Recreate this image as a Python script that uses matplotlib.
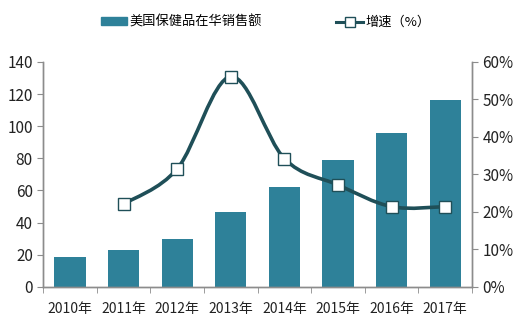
import numpy as np
import matplotlib.pyplot as plt
from matplotlib.path import Path
from matplotlib.patches import PathPatch
from matplotlib.lines import Line2D

plt.rcParams['font.family'] = ['Noto Sans CJK SC', 'DejaVu Sans']

years = ['2010年', '2011年', '2012年', '2013年', '2014年', '2015年', '2016年', '2017年']
sales = [18.5, 23, 30, 46.7, 62.2, 79, 95.8, 116.4]
growth = [None, 22.1, 31.5, 56.1, 34.2, 27.2, 21.4, 21.4]

bar_color = '#2e8199'
line_color = '#1f4f58'
axis_color = '#8c8c8c'

fig = plt.figure(figsize=(5.21, 3.26), dpi=100)
ax = fig.add_axes([0.083, 0.120, 0.823, 0.690])
ax2 = ax.twinx()

x = np.arange(len(years))
ax.bar(x, sales, width=0.58, color=bar_color, zorder=2)
ax.set_xlim(-0.5, len(years) - 0.5)
ax.set_ylim(0, 140)
ax.set_yticks(range(0, 141, 20))
ax.set_xticks(x)
ax.set_xticklabels(years, fontsize=10, color='#222222')
ax.set_xticks(np.arange(-0.5, len(years), 1), minor=True)
ax.tick_params(axis='x', which='major', length=0, pad=11)
ax.tick_params(axis='x', which='minor', length=4, color=axis_color)
ax.tick_params(axis='y', length=4, color=axis_color, labelsize=11, labelcolor='#222222')

# smoothed growth line (Catmull-Rom -> cubic bezier)
gx = [i for i, g in enumerate(growth) if g is not None]
gy = [g for g in growth if g is not None]
pts = np.column_stack([gx, gy]).astype(float)
verts = [pts[0]]
codes = [Path.MOVETO]
n = len(pts)
for i in range(n - 1):
    p0 = pts[i - 1] if i > 0 else pts[i]
    p1 = pts[i]
    p2 = pts[i + 1]
    p3 = pts[i + 2] if i + 2 < n else pts[i + 1]
    c1 = p1 + (p2 - p0) / 6.0
    c2 = p2 - (p3 - p1) / 6.0
    verts += [c1, c2, p2]
    codes += [Path.CURVE4] * 3
ax2.add_patch(PathPatch(Path(verts, codes), facecolor='none', edgecolor=line_color,
                        lw=2.6, zorder=3))
ax2.plot(gx, gy, linestyle='none', marker='s', markersize=8, markerfacecolor='white',
         markeredgecolor=line_color, markeredgewidth=1.0, zorder=4)
ax2.set_ylim(0, 60)
ax2.set_yticks(range(0, 61, 10))
ax2.set_yticklabels([f'{v}%' for v in range(0, 61, 10)])
ax2.tick_params(axis='y', length=4, color=axis_color, labelsize=11, labelcolor='#222222')

for a in (ax, ax2):
    a.spines['top'].set_visible(False)
    for s in ('left', 'right', 'bottom'):
        a.spines[s].set_color(axis_color)
        a.spines[s].set_linewidth(1.0)

h1 = plt.Rectangle((0, 0), 1, 1, color=bar_color)
h2 = Line2D([], [], color=line_color, lw=2.2, marker='s', markersize=7,
            markerfacecolor='white', markeredgecolor=line_color)
fig.legend([h1, h2], ['美国保健品在华销售额', '增速（%）'], loc='center',
           bbox_to_anchor=(0.51, 0.932), ncol=2, frameon=False, fontsize=9.5,
           handlelength=2.0, handleheight=0.45, handletextpad=0.2, columnspacing=5.6)

fig.savefig('out.png', dpi=100)
